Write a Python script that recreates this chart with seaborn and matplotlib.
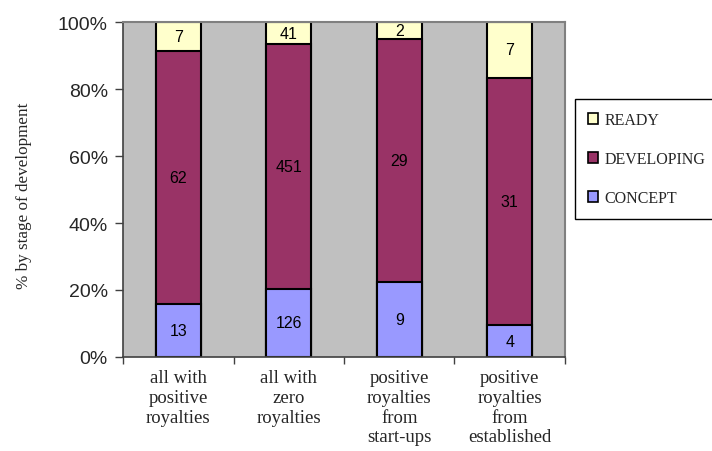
import matplotlib
matplotlib.use("Agg")
import matplotlib.pyplot as plt
from matplotlib.patches import Patch
from matplotlib.ticker import FixedLocator, PercentFormatter
import numpy as np
import pandas as pd
import seaborn as sns

# Counts of technologies by stage of development
categories = [
    "all with\npositive\nroyalties",
    "all with\nzero\nroyalties",
    "positive\nroyalties\nfrom\nstart-ups",
    "positive\nroyalties\nfrom\nestablished",
]
concept = [13, 126, 9, 4]
developing = [62, 451, 29, 31]
ready = [7, 41, 2, 7]

stages = ["CONCEPT", "DEVELOPING", "READY"]
colors = {"CONCEPT": "#9999FF", "DEVELOPING": "#993366", "READY": "#FFFFCC"}

counts = pd.DataFrame({"CONCEPT": concept, "DEVELOPING": developing, "READY": ready},
                      index=categories)
shares = counts.div(counts.sum(axis=1), axis=0) * 100
cum = shares.cumsum(axis=1)

sns.set_theme(style="white")
plt.rcParams["font.family"] = ["Liberation Sans", "DejaVu Sans"]

fig = plt.figure(figsize=(7.12, 4.52), dpi=100)
ax = fig.add_axes([0.1728, 0.208, 0.6207, 0.741])
ax.set_facecolor("#C0C0C0")

# Stacked bars: draw cumulative tops from the highest layer downward
for stage in reversed(stages):
    df = pd.DataFrame({"cat": categories, "val": cum[stage].values})
    sns.barplot(data=df, x="cat", y="val", color=colors[stage], saturation=1,
                width=0.41, edgecolor="black", linewidth=1.5, ax=ax)

# Count labels at the middle of each segment
for i, cat in enumerate(categories):
    base = 0.0
    for stage in stages:
        h = shares.loc[cat, stage]
        ax.text(i, base + h / 2, str(counts.loc[cat, stage]), ha="center", va="center",
                fontsize=11.5, color="black")
        base += h

ax.set_xlim(-0.5, 3.5)
ax.set_ylim(0, 100)
ax.set_xlabel("")
ax.set_ylabel("% by stage of development", family=["Liberation Serif"], fontsize=12.3)
ax.yaxis.set_label_coords(-0.205, 0.484)
ax.yaxis.set_major_locator(FixedLocator([0, 20, 40, 60, 80, 100]))
ax.yaxis.set_major_formatter(PercentFormatter(decimals=0))
ax.tick_params(axis="y", which="major", length=6, width=1, color="#404040",
               direction="out", left=True, labelsize=14, pad=5)

ax.set_xticks(range(len(categories)))
ax.set_xticklabels(categories, family=["Liberation Serif"], fontsize=13.5,
                   linespacing=1.2, va="top")
ax.tick_params(axis="x", which="major", length=0, pad=9)
ax.xaxis.set_minor_locator(FixedLocator([-0.5, 0.5, 1.5, 2.5, 3.5]))
ax.tick_params(axis="x", which="minor", length=5, width=1, color="#404040",
               direction="out", bottom=True)

for side in ["left", "bottom"]:
    ax.spines[side].set_color("#404040")
    ax.spines[side].set_linewidth(1.2)
for side in ["top", "right"]:
    ax.spines[side].set_color("#808080")
    ax.spines[side].set_linewidth(1.5)

handles = [Patch(facecolor=colors[s], edgecolor="black", linewidth=1.2) for s in reversed(stages)]
leg = fig.legend(handles, list(reversed(stages)), loc="center left",
                 bbox_to_anchor=(575 / 712, 1 - 160 / 452),
                 prop={"family": "Liberation Serif", "size": 11.5},
                 handlelength=0.65, handleheight=0.65, handletextpad=0.4,
                 labelspacing=1.45, borderpad=0.8, borderaxespad=0.0,
                 frameon=True, fancybox=False,
                 edgecolor="black", framealpha=1)
leg.get_frame().set_linewidth(1.0)

fig.savefig("out.png", dpi=100, facecolor="white")
